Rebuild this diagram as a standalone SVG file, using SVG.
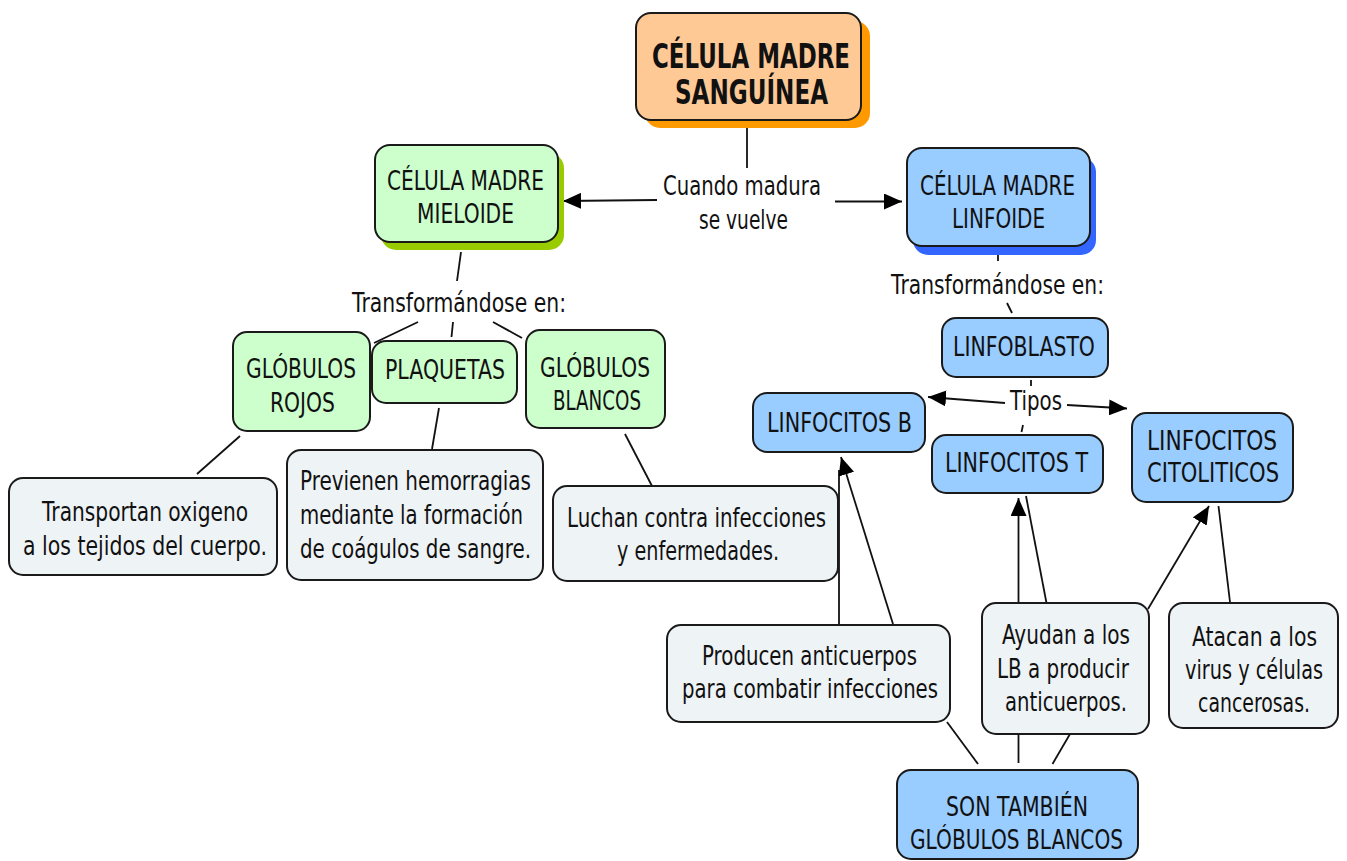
<svg xmlns="http://www.w3.org/2000/svg" width="1347" height="861" viewBox="0 0 1347 861">
<defs>
<style>
.t{font-family:"DejaVu Sans","Liberation Sans",sans-serif;font-size:27px;fill:#111}
.b{font-family:"DejaVu Sans","Liberation Sans",sans-serif;font-size:34px;font-weight:bold;fill:#111}
.box{stroke:#1a1a1a;stroke-width:2}
.org{fill:#FEC995}
.grn{fill:#CCFFCC}
.blu{fill:#99CCFF}
.gry{fill:#EEF3F6}
.c{stroke:#111;stroke-width:1.8;fill:none}
</style>
<marker id="ah" viewBox="0 0 18 16" refX="18" refY="8" markerWidth="18" markerHeight="16" orient="auto" markerUnits="userSpaceOnUse">
<path d="M0,0 L18,8 L0,16 z" fill="#000"/>
</marker>
</defs>
<rect width="1347" height="861" fill="#fff"/>
<g id="connectors">
<line class="c" x1="747" y1="121" x2="747" y2="168"/>
<line class="c" x1="657" y1="200" x2="563" y2="201" marker-end="url(#ah)"/>
<line class="c" x1="835" y1="201.5" x2="902" y2="201.5" marker-end="url(#ah)"/>
<line class="c" x1="461" y1="252" x2="457" y2="281"/>
<line class="c" x1="418" y1="322" x2="374" y2="343"/>
<line class="c" x1="453" y1="322" x2="451.5" y2="337"/>
<line class="c" x1="493" y1="322" x2="522" y2="338"/>
<line class="c" x1="240" y1="436" x2="197" y2="474"/>
<line class="c" x1="439" y1="408" x2="432" y2="449"/>
<line class="c" x1="625" y1="434" x2="652" y2="486"/>
<line class="c" x1="998" y1="255" x2="998" y2="261"/>
<line class="c" x1="1007" y1="303" x2="1012" y2="313"/>
<line class="c" x1="1031" y1="380" x2="1031" y2="386"/>
<line class="c" x1="1005" y1="403" x2="928" y2="397" marker-end="url(#ah)"/>
<line class="c" x1="1067" y1="405" x2="1127" y2="408.5" marker-end="url(#ah)"/>
<line class="c" x1="1023" y1="425" x2="1021.5" y2="432"/>
<line class="c" x1="839" y1="625" x2="839" y2="470"/>
<line class="c" x1="893" y1="624" x2="841" y2="457" marker-end="url(#ah)"/>
<line class="c" x1="1018.5" y1="603" x2="1018.5" y2="498" marker-end="url(#ah)"/>
<line class="c" x1="1046.5" y1="603" x2="1026" y2="496"/>
<line class="c" x1="1148" y1="609" x2="1209" y2="506" marker-end="url(#ah)"/>
<line class="c" x1="1230" y1="602" x2="1218.5" y2="506"/>
<line class="c" x1="947" y1="722" x2="978" y2="764"/>
<line class="c" x1="1018.5" y1="734" x2="1018.5" y2="763"/>
<line class="c" x1="1070" y1="734" x2="1052.5" y2="764"/>
</g>
<g id="n-sanguinea">
<rect x="645" y="21" width="225" height="107" rx="15" fill="#FF9900"/>
<rect class="box org" x="636" y="13" width="225" height="107" rx="15"/>
<text class="b" transform="translate(652,68) scale(0.67,1)" textLength="295.5" lengthAdjust="spacingAndGlyphs">CÉLULA MADRE</text>
<text class="b" transform="translate(675,104) scale(0.67,1)" textLength="228.4" lengthAdjust="spacingAndGlyphs">SANGUÍNEA</text>
</g>
<g id="l-cuando">
<text class="t" transform="translate(663,195) scale(0.76,1)" textLength="207.9" lengthAdjust="spacingAndGlyphs">Cuando madura</text>
<text class="t" transform="translate(699,229) scale(0.76,1)" textLength="117.1" lengthAdjust="spacingAndGlyphs">se vuelve</text>
</g>
<g id="n-mieloide">
<rect x="381" y="153" width="183" height="97" rx="15" fill="#99CC00"/>
<rect class="box grn" x="375" y="145" width="183" height="97" rx="15"/>
<text class="t" transform="translate(387,190) scale(0.76,1)" textLength="206.6" lengthAdjust="spacingAndGlyphs">CÉLULA MADRE</text>
<text class="t" transform="translate(417,223) scale(0.76,1)" textLength="127.6" lengthAdjust="spacingAndGlyphs">MIELOIDE</text>
</g>
<g id="n-linfoide">
<rect x="913" y="157" width="183" height="98" rx="15" fill="#3366FF"/>
<rect class="box blu" x="907" y="148" width="183" height="98" rx="15"/>
<text class="t" transform="translate(920,195) scale(0.76,1)" textLength="203.9" lengthAdjust="spacingAndGlyphs">CÉLULA MADRE</text>
<text class="t" transform="translate(952,228) scale(0.76,1)" textLength="122.4" lengthAdjust="spacingAndGlyphs">LINFOIDE</text>
</g>
<g id="l-transf-left">
<text class="t" transform="translate(352,312) scale(0.76,1)" textLength="281.6" lengthAdjust="spacingAndGlyphs">Transformándose en:</text>
</g>
<g id="l-transf-right">
<text class="t" transform="translate(891,294) scale(0.76,1)" textLength="280.3" lengthAdjust="spacingAndGlyphs">Transformándose en:</text>
</g>
<g id="n-rojos">
<rect class="box grn" x="233" y="332" width="137" height="99" rx="14"/>
<text class="t" transform="translate(246,378) scale(0.76,1)" textLength="144.7" lengthAdjust="spacingAndGlyphs">GLÓBULOS</text>
<text class="t" transform="translate(270,412) scale(0.76,1)" textLength="85.5" lengthAdjust="spacingAndGlyphs">ROJOS</text>
</g>
<g id="n-plaquetas">
<rect class="box grn" x="372" y="341" width="145" height="62" rx="14"/>
<text class="t" transform="translate(385,379) scale(0.76,1)" textLength="157.9" lengthAdjust="spacingAndGlyphs">PLAQUETAS</text>
</g>
<g id="n-blancos">
<rect class="box grn" x="526" y="330" width="139" height="98" rx="14"/>
<text class="t" transform="translate(540,377) scale(0.76,1)" textLength="144.7" lengthAdjust="spacingAndGlyphs">GLÓBULOS</text>
<text class="t" transform="translate(553,410) scale(0.76,1)" textLength="115.8" lengthAdjust="spacingAndGlyphs">BLANCOS</text>
</g>
<g id="n-transportan">
<rect class="box gry" x="9" y="478" width="268" height="97" rx="14"/>
<text class="t" transform="translate(42,521) scale(0.76,1)" textLength="271.1" lengthAdjust="spacingAndGlyphs">Transportan oxigeno</text>
<text class="t" transform="translate(23,555) scale(0.76,1)" textLength="321.1" lengthAdjust="spacingAndGlyphs">a los tejidos del cuerpo.</text>
</g>
<g id="n-previenen">
<rect class="box gry" x="287" y="450" width="256" height="130" rx="14"/>
<text class="t" transform="translate(300,490) scale(0.76,1)" textLength="303.9" lengthAdjust="spacingAndGlyphs">Previenen hemorragias</text>
<text class="t" transform="translate(300,524) scale(0.76,1)" textLength="293.4" lengthAdjust="spacingAndGlyphs">mediante la formación</text>
<text class="t" transform="translate(300,558) scale(0.76,1)" textLength="303.9" lengthAdjust="spacingAndGlyphs">de coágulos de sangre.</text>
</g>
<g id="n-luchan">
<rect class="box gry" x="553" y="486" width="285" height="95" rx="14"/>
<text class="t" transform="translate(567,527) scale(0.76,1)" textLength="340.8" lengthAdjust="spacingAndGlyphs">Luchan contra infecciones</text>
<text class="t" transform="translate(617,560) scale(0.76,1)" textLength="213.2" lengthAdjust="spacingAndGlyphs">y enfermedades.</text>
</g>
<g id="n-linfoblasto">
<rect class="box blu" x="942" y="318" width="166" height="59" rx="14"/>
<text class="t" transform="translate(953,356) scale(0.76,1)" textLength="186.8" lengthAdjust="spacingAndGlyphs">LINFOBLASTO</text>
</g>
<g id="l-tipos">
<text class="t" transform="translate(1010,410) scale(0.76,1)" textLength="68.4" lengthAdjust="spacingAndGlyphs">Tipos</text>
</g>
<g id="n-linfo-b">
<rect class="box blu" x="753" y="393" width="172" height="59" rx="14"/>
<text class="t" transform="translate(767,432) scale(0.76,1)" textLength="190.8" lengthAdjust="spacingAndGlyphs">LINFOCITOS B</text>
</g>
<g id="n-linfo-t">
<rect class="box blu" x="932" y="435" width="171" height="58" rx="14"/>
<text class="t" transform="translate(945,472) scale(0.76,1)" textLength="188.2" lengthAdjust="spacingAndGlyphs">LINFOCITOS T</text>
</g>
<g id="n-citoliticos">
<rect class="box blu" x="1132" y="413" width="161" height="89" rx="14"/>
<text class="t" transform="translate(1147,450) scale(0.76,1)" textLength="171.1" lengthAdjust="spacingAndGlyphs">LINFOCITOS</text>
<text class="t" transform="translate(1147,482) scale(0.76,1)" textLength="173.7" lengthAdjust="spacingAndGlyphs">CITOLITICOS</text>
</g>
<g id="n-producen">
<rect class="box gry" x="667" y="625" width="283" height="97" rx="14"/>
<text class="t" transform="translate(702,665) scale(0.76,1)" textLength="282.9" lengthAdjust="spacingAndGlyphs">Producen anticuerpos</text>
<text class="t" transform="translate(682,698) scale(0.76,1)" textLength="336.8" lengthAdjust="spacingAndGlyphs">para combatir infecciones</text>
</g>
<g id="n-ayudan">
<rect class="box gry" x="982" y="603" width="167" height="131" rx="14"/>
<text class="t" transform="translate(1002,644) scale(0.76,1)" textLength="168.4" lengthAdjust="spacingAndGlyphs">Ayudan a los</text>
<text class="t" transform="translate(997,678) scale(0.76,1)" textLength="173.7" lengthAdjust="spacingAndGlyphs">LB a producir</text>
<text class="t" transform="translate(1005,711) scale(0.76,1)" textLength="160.5" lengthAdjust="spacingAndGlyphs">anticuerpos.</text>
</g>
<g id="n-atacan">
<rect class="box gry" x="1169" y="603" width="169" height="125" rx="14"/>
<text class="t" transform="translate(1192,646) scale(0.76,1)" textLength="164.5" lengthAdjust="spacingAndGlyphs">Atacan a los</text>
<text class="t" transform="translate(1185,679) scale(0.76,1)" textLength="181.6" lengthAdjust="spacingAndGlyphs">virus y células</text>
<text class="t" transform="translate(1198,712) scale(0.76,1)" textLength="147.4" lengthAdjust="spacingAndGlyphs">cancerosas.</text>
</g>
<g id="n-son">
<rect class="box blu" x="897" y="770" width="241" height="89" rx="14"/>
<text class="t" transform="translate(946,816) scale(0.76,1)" textLength="186.8" lengthAdjust="spacingAndGlyphs">SON TAMBIÉN</text>
<text class="t" transform="translate(910,849) scale(0.76,1)" textLength="280.3" lengthAdjust="spacingAndGlyphs">GLÓBULOS BLANCOS</text>
</g>
</svg>
